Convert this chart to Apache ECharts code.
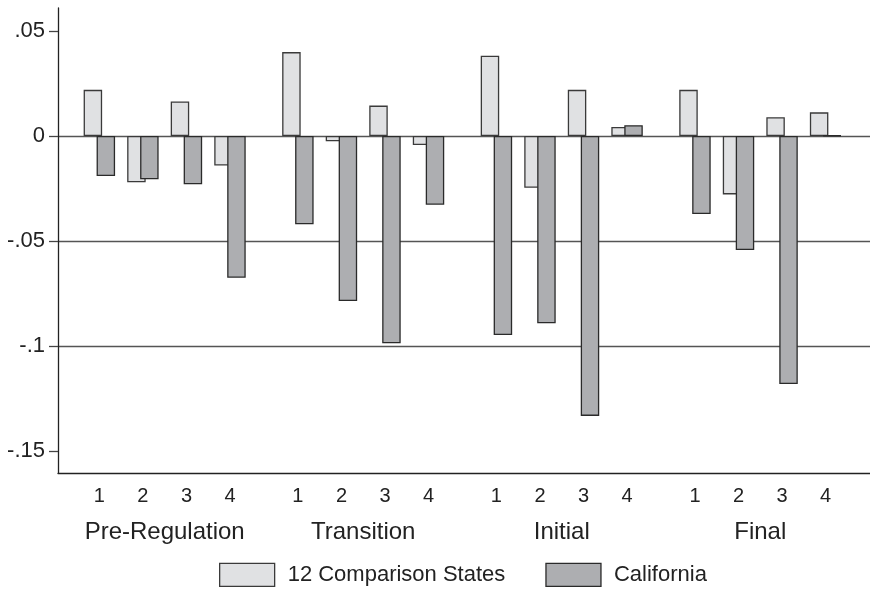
<!DOCTYPE html>
<html>
<head>
<meta charset="utf-8">
<script src="https://cdn.jsdelivr.net/npm/echarts@6/dist/echarts.min.js"></script>
<style>
  html, body { margin: 0; padding: 0; background: #fff; }
  #main { width: 870px; height: 589px; }
</style>
</head>
<body>
<div id="main"></div>
<script>
// periods and quarters
const groups = ['Pre-Regulation', 'Transition', 'Initial', 'Final']
const quarters = ['1', '2', '3', '4']
const seriesNames = ['12 Comparison States', 'California']

// values, 4 per group in order
const comparison = [
  0.022, -0.022, 0.0165, -0.014,
  0.040, -0.0025, 0.0145, -0.0043,
  0.0383, -0.0246, 0.022, 0.0043,
  0.022, -0.0278, 0.009, 0.0113
]
const california = [
  -0.019, -0.0206, -0.023, -0.0675,
  -0.042, -0.0786, -0.0987, -0.0327,
  -0.0948, -0.0892, -0.1333, 0.0052,
  -0.0371, -0.0543, -0.1181, 0.0003
]
const yTicks = [-0.15, -0.1, -0.05, 0, 0.05]

// x layout: one unit per quarter, a wider step between groups
const groupStep = 4.56
const xPos = []
const xLabelOf = {}
const groupCenters = []
const groupOf = {}
groups.forEach((g, gi) => {
  quarters.forEach((q, qi) => {
    const x = +(gi * groupStep + qi).toFixed(2)
    xPos.push(x)
    xLabelOf[x] = q
  })
  const c = +(gi * groupStep + 1.5).toFixed(2)
  groupCenters.push(c)
  groupOf[c] = g
})

const font = 'Liberation Sans, Arial, sans-serif'
const fmtY = v => {
  if (v === 0) return '0'
  return String(+v.toFixed(2)).replace('0.', '.')
}

const chart = echarts.init(document.getElementById('main'))
chart.setOption({
  animation: false,
  backgroundColor: '#fff',
  grid: { left: 58, right: 0, top: 8, bottom: 116, containLabel: false },
  legend: {
    left: 219,
    bottom: 2,
    padding: 0,
    icon: 'rect',
    itemWidth: 55,
    itemHeight: 23,
    itemGap: 40,
    data: seriesNames,
    itemStyle: { borderWidth: 1.3 },
    textStyle: { fontFamily: font, fontSize: 22, color: '#222', padding: [0, 0, 0, 8] }
  },
  xAxis: [
    {
      type: 'value',
      min: -0.95,
      max: 17.7,
      axisLine: { show: true, onZero: false, lineStyle: { color: '#222', width: 1.3 } },
      axisTick: { show: false },
      splitLine: { show: false },
      axisLabel: {
        customValues: xPos,
        formatter: v => xLabelOf[+v.toFixed(2)] || '',
        margin: 13,
        fontFamily: font,
        fontSize: 20,
        color: '#222'
      }
    },
    {
      type: 'value',
      position: 'bottom',
      min: -0.95,
      max: 17.7,
      axisLine: { show: false },
      axisTick: { show: false },
      splitLine: { show: false },
      axisLabel: {
        customValues: groupCenters,
        formatter: v => groupOf[+v.toFixed(2)] || '',
        margin: 47,
        fontFamily: font,
        fontSize: 24,
        color: '#222'
      }
    }
  ],
  yAxis: {
    type: 'value',
    min: -0.1605,
    max: 0.061,
    splitNumber: 5,
    axisLine: { show: true, onZero: false, lineStyle: { color: '#222', width: 1.3 } },
    axisTick: { show: true, length: 9, customValues: yTicks, lineStyle: { color: '#444', width: 1.3 } },
    axisLabel: {
      customValues: yTicks,
      formatter: fmtY,
      margin: 13,
      fontFamily: font,
      fontSize: 22,
      color: '#222'
    },
    splitLine: { show: true, showMinLine: false, showMaxLine: false, lineStyle: { color: '#555', width: 1.3 } }
  },
  series: [
    {
      name: seriesNames[0],
      type: 'bar',
      xAxisIndex: 0,
      barWidth: 18.5,
      barGap: '-30%',
      data: xPos.map((x, i) => [x, comparison[i]]),
      itemStyle: { color: '#e0e1e3', borderColor: '#3a3a3a', borderWidth: 1.3 }
    },
    {
      name: seriesNames[1],
      type: 'bar',
      xAxisIndex: 0,
      barWidth: 18.5,
      barGap: '-30%',
      data: xPos.map((x, i) => [x, california[i]]),
      itemStyle: { color: '#adaeb1', borderColor: '#2a2a2a', borderWidth: 1.3 }
    }
  ]
})
</script>
</body>
</html>
